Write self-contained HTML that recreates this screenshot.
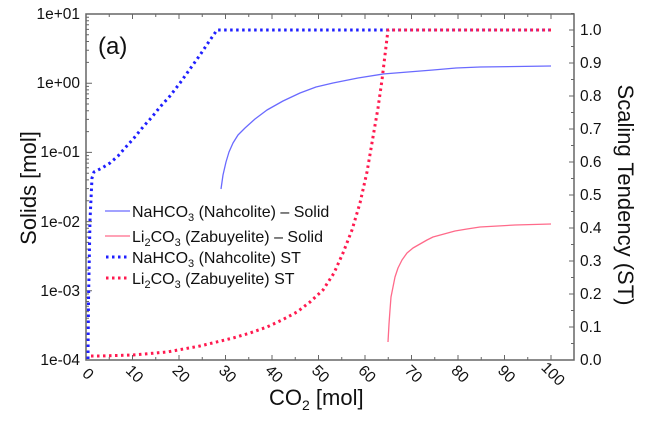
<!DOCTYPE html>
<html><head><style>body{margin:0;background:#fff}svg{display:block}text{font-family:"Liberation Sans",Arial,sans-serif;fill:#111}</style></head>
<body>
<svg width="650" height="428" viewBox="0 0 650 428" xmlns="http://www.w3.org/2000/svg">
<rect x="86" y="14" width="488" height="346" fill="none" stroke="#666" stroke-width="1.5"/>
<g stroke="#666" stroke-width="1" fill="none">
<path d="M86,360v-5M132.5,360v-5M179,360v-5M225.5,360v-5M272,360v-5M318.5,360v-5M365,360v-5M411.5,360v-5M458,360v-5M504.5,360v-5M551,360v-5
M109.25,360v-3M155.75,360v-3M202.25,360v-3M248.75,360v-3M295.25,360v-3M341.75,360v-3M388.25,360v-3M434.75,360v-3M481.25,360v-3M527.75,360v-3
M132.5,14v5M179,14v5M225.5,14v5M272,14v5M318.5,14v5M365,14v5M411.5,14v5M458,14v5M504.5,14v5M551,14v5
M109.25,14v3M155.75,14v3M202.25,14v3M248.75,14v3M295.25,14v3M341.75,14v3M388.25,14v3M434.75,14v3M481.25,14v3M527.75,14v3"/>
<path d="M86,83.2h6M86,152.4h6M86,221.6h6M86,290.8h6
M86,17.2h3M86,20.7h3M86,24.7h3M86,29.4h3M86,34.8h3M86,41.5h3M86,50.2h3M86,62.4h3
M86,86.4h3M86,89.9h3M86,93.9h3M86,98.6h3M86,104h3M86,110.7h3M86,119.4h3M86,131.6h3
M86,155.6h3M86,159.1h3M86,163.1h3M86,167.8h3M86,173.2h3M86,179.9h3M86,188.6h3M86,200.8h3
M86,224.8h3M86,228.3h3M86,232.3h3M86,237h3M86,242.4h3M86,249.1h3M86,257.8h3M86,270h3
M86,294h3M86,297.5h3M86,301.5h3M86,306.2h3M86,311.6h3M86,318.3h3M86,327h3M86,339.2h3"/>
<path d="M574,327h-5M574,294h-5M574,261h-5M574,228h-5M574,195h-5M574,162h-5M574,129h-5M574,96h-5M574,63h-5M574,30h-5
M574,343.5h-3M574,310.5h-3M574,277.5h-3M574,244.5h-3M574,211.5h-3M574,178.5h-3M574,145.5h-3M574,112.5h-3M574,79.5h-3M574,46.5h-3M574,13.5h-3"/>
</g>
<g font-size="15.5">
<text x="80" y="19" text-anchor="end">1e+01</text>
<text x="80" y="88" text-anchor="end">1e+00</text>
<text x="80" y="157" text-anchor="end">1e-01</text>
<text x="80" y="227" text-anchor="end">1e-02</text>
<text x="80" y="296" text-anchor="end">1e-03</text>
<text x="80" y="365" text-anchor="end">1e-04</text>
<text x="580" y="365">0.0</text><text x="580" y="332">0.1</text><text x="580" y="299">0.2</text>
<text x="580" y="266">0.3</text><text x="580" y="233">0.4</text><text x="580" y="200">0.5</text>
<text x="580" y="167">0.6</text><text x="580" y="134">0.7</text><text x="580" y="101">0.8</text>
<text x="580" y="68">0.9</text><text x="580" y="35">1.0</text>
<g text-anchor="middle">
<text x="88" y="379" transform="rotate(45 88 374)">0</text>
<text x="134.5" y="379" transform="rotate(45 134.5 374)">10</text>
<text x="181" y="379" transform="rotate(45 181 374)">20</text>
<text x="227.5" y="379" transform="rotate(45 227.5 374)">30</text>
<text x="274" y="379" transform="rotate(45 274 374)">40</text>
<text x="320.5" y="379" transform="rotate(45 320.5 374)">50</text>
<text x="367" y="379" transform="rotate(45 367 374)">60</text>
<text x="413.5" y="379" transform="rotate(45 413.5 374)">70</text>
<text x="460" y="379" transform="rotate(45 460 374)">80</text>
<text x="506.5" y="379" transform="rotate(45 506.5 374)">90</text>
<text x="553" y="379" transform="rotate(45 553 374)">100</text>
</g>
</g>
<g fill="none" stroke-linejoin="round">
<polyline stroke="#1f1fff" stroke-width="3" stroke-dasharray="2.5 3.5" points="88,359 88.5,300 90,220 92,178 94,172 102,168 110,163 118,156 125,148 134,138 143,127 152,117 160,107 170,96 180,83 190,69 200,55 208,43 217,30 551,30"/>
<polyline stroke="#ff1a4f" stroke-width="3" stroke-dasharray="2.5 3.5" points="91,356 100,356 133,355 167,352 200,346 233,338 250,333 267,327 282,320 297,312 310,302 323,290 334,273 343,253 352,230 360,203 367,172 373,137 378,108 382,80 385,55 388,30 551,30"/>
<polyline stroke="#6a6aff" stroke-width="1.3" points="221,189 223,175 226,162 229,152 233,143 238,135 245,128 255,119 267,110 283,101 300,93 316,87 333,83 358,78 383,74 408,72 433,70 456,68 480,67 551,66"/>
<polyline stroke="#ff6a8a" stroke-width="1.3" points="388,342 389,324 390,310 391,297 393,287 395,277 398,268 402,260 407,253 413,248 420,244 427,240 433,237 444,234 455,231 467,229 480,227 515,225 551,224"/>
</g>
<g font-size="16">
<line x1="105" y1="211" x2="130" y2="211" stroke="#6a6aff" stroke-width="1.3"/>
<text x="132" y="217">NaHCO<tspan font-size="11" dy="4">3</tspan><tspan dy="-4">  (Nahcolite) – Solid</tspan></text>
<line x1="105" y1="236" x2="130" y2="236" stroke="#ff6a8a" stroke-width="1.3"/>
<text x="132" y="242">Li<tspan font-size="11" dy="4">2</tspan><tspan dy="-4">CO</tspan><tspan font-size="11" dy="4">3</tspan><tspan dy="-4"> (Zabuyelite) – Solid</tspan></text>
<line x1="106" y1="257" x2="130" y2="257" stroke="#1f1fff" stroke-width="3" stroke-dasharray="2.5 3.5"/>
<text x="132" y="263">NaHCO<tspan font-size="11" dy="4">3</tspan><tspan dy="-4">  (Nahcolite) ST</tspan></text>
<line x1="106" y1="278" x2="130" y2="278" stroke="#ff1a4f" stroke-width="3" stroke-dasharray="2.5 3.5"/>
<text x="132" y="284">Li<tspan font-size="11" dy="4">2</tspan><tspan dy="-4">CO</tspan><tspan font-size="11" dy="4">3</tspan><tspan dy="-4"> (Zabuyelite) ST</tspan></text>
</g>
<text x="98" y="54" font-size="24">(a)</text>
<text x="269" y="405" font-size="22">CO<tspan font-size="14" dy="5">2</tspan><tspan dy="-5"> [mol]</tspan></text>
<text transform="translate(36,188) rotate(-90)" text-anchor="middle" font-size="22">Solids [mol]</text>
<text transform="translate(618,195) rotate(90)" text-anchor="middle" font-size="22">Scaling Tendency (ST)</text>
</svg>
</body></html>
